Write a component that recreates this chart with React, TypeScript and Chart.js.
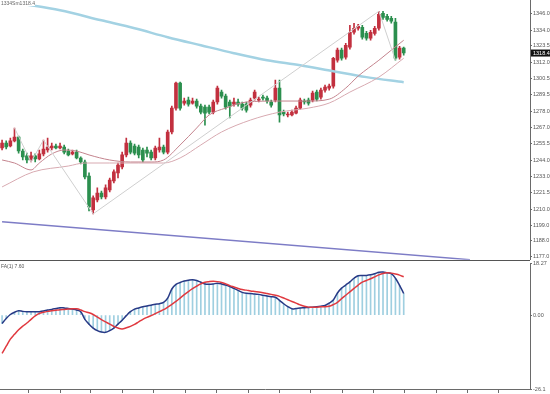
import React, { useEffect, useRef } from "react";
import { Chart, registerables } from "chart.js";
Chart.register(...registerables);

// ---- data ----
const topLabel = "1334Sm1318.4";
const macdLabel = "FA(1) 7.60";
const currentPrice = 1318.4;
const totalSlots = 128;

const openPrices = [
  1252.5, 1256.0, 1253.9, 1257.4, 1260.1, 1250.4, 1247.0, 1244.2, 1247.0, 1244.9,
  1248.4, 1251.1, 1252.5, 1253.9, 1252.5, 1253.2, 1250.4, 1248.4, 1249.7, 1245.6,
  1242.8, 1233.1, 1209.6, 1216.5, 1221.3, 1218.6, 1223.4, 1229.7, 1235.2, 1239.4,
  1247.7, 1256.0, 1253.9, 1253.2, 1251.1, 1251.1, 1249.7, 1245.6, 1251.1, 1253.2,
  1249.7, 1263.6, 1280.2, 1297.5, 1283.7, 1285.7, 1283.7, 1285.1, 1281.6, 1280.9,
  1280.9, 1277.4, 1284.4, 1291.3, 1288.5, 1284.4, 1283.0, 1284.4, 1283.0, 1283.0,
  1282.3, 1287.1, 1285.7, 1287.8, 1287.1, 1284.4, 1285.7, 1294.1, 1277.4, 1275.4,
  1275.4, 1276.7, 1280.2, 1285.1, 1285.7, 1285.7, 1291.3, 1287.8, 1292.7, 1294.1,
  1295.4, 1313.4, 1320.4, 1315.5, 1322.5, 1332.8, 1335.6, 1336.3, 1332.1, 1328.7,
  1332.1, 1335.6, 1346.0, 1343.9, 1342.5, 1339.8, 1315.5, 1321.8,
];
const closePrices = [
  1256.0, 1253.2, 1257.4, 1260.1, 1250.4, 1246.3, 1244.2, 1247.0, 1244.9, 1248.4,
  1251.8, 1253.2, 1253.9, 1252.5, 1253.9, 1249.7, 1247.7, 1249.7, 1245.6, 1242.8,
  1232.4, 1211.7, 1217.9, 1221.3, 1218.6, 1224.8, 1230.3, 1235.9, 1240.7, 1247.7,
  1256.0, 1249.7, 1249.0, 1247.7, 1244.2, 1249.0, 1245.6, 1252.5, 1253.2, 1249.7,
  1263.6, 1280.2, 1297.5, 1280.2, 1285.1, 1283.0, 1285.1, 1281.6, 1277.4, 1276.7,
  1277.4, 1284.4, 1294.1, 1288.5, 1280.9, 1281.6, 1284.4, 1283.0, 1280.2, 1278.8,
  1285.7, 1291.3, 1286.4, 1287.1, 1285.1, 1282.3, 1294.1, 1275.4, 1276.1, 1276.1,
  1277.4, 1280.2, 1285.7, 1284.4, 1283.7, 1290.6, 1286.4, 1292.7, 1294.8, 1295.4,
  1314.8, 1320.4, 1314.8, 1323.8, 1332.8, 1335.6, 1337.0, 1329.4, 1328.7, 1332.8,
  1335.6, 1345.3, 1343.2, 1341.8, 1340.5, 1314.8, 1321.8, 1318.4,
];
const highPrices = [
  1258.0, 1257.4, 1259.4, 1266.4, 1260.8, 1251.8, 1249.0, 1249.7, 1248.4, 1251.1,
  1258.0, 1259.4, 1256.0, 1255.3, 1256.0, 1254.6, 1251.8, 1251.1, 1251.1, 1246.3,
  1244.2, 1235.2, 1219.3, 1224.8, 1222.7, 1226.9, 1231.7, 1237.3, 1242.1, 1249.7,
  1259.4, 1257.4, 1255.3, 1254.6, 1252.5, 1253.2, 1251.1, 1253.9, 1259.4, 1254.6,
  1265.0, 1281.6, 1298.2, 1298.2, 1287.1, 1287.8, 1287.1, 1286.4, 1283.0, 1282.3,
  1282.3, 1285.7, 1295.4, 1292.7, 1289.9, 1285.7, 1287.1, 1286.4, 1284.4, 1284.4,
  1287.1, 1292.7, 1287.8, 1289.2, 1288.5, 1285.7, 1299.6, 1299.6, 1278.8, 1277.4,
  1278.8, 1281.6, 1287.1, 1286.4, 1287.1, 1292.0, 1292.7, 1294.1, 1296.1, 1296.8,
  1315.5, 1321.8, 1321.8, 1325.2, 1337.7, 1339.1, 1338.4, 1337.7, 1333.5, 1334.2,
  1337.0, 1347.4, 1347.4, 1345.3, 1343.9, 1342.5, 1323.1, 1322.5,
];
const lowPrices = [
  1251.1, 1251.8, 1253.2, 1256.7, 1249.0, 1244.2, 1242.1, 1242.8, 1242.8, 1244.2,
  1247.0, 1249.7, 1251.1, 1251.8, 1251.8, 1248.4, 1247.0, 1247.7, 1244.9, 1241.4,
  1231.0, 1208.9, 1206.8, 1215.1, 1217.2, 1217.2, 1222.0, 1228.3, 1231.7, 1238.0,
  1246.3, 1248.4, 1247.7, 1245.6, 1242.8, 1246.3, 1244.2, 1244.2, 1249.7, 1248.4,
  1248.4, 1262.2, 1278.8, 1278.8, 1282.3, 1281.6, 1283.0, 1280.2, 1276.1, 1268.4,
  1276.1, 1276.1, 1283.0, 1287.1, 1279.5, 1273.3, 1281.6, 1281.6, 1278.8, 1277.4,
  1280.9, 1285.7, 1284.4, 1285.7, 1283.7, 1280.9, 1284.4, 1270.5, 1274.7, 1274.0,
  1274.7, 1276.1, 1279.5, 1283.0, 1282.3, 1284.4, 1285.1, 1286.4, 1291.3, 1292.7,
  1294.1, 1312.1, 1313.4, 1314.1, 1321.1, 1331.5, 1334.2, 1328.0, 1327.3, 1327.3,
  1330.8, 1334.2, 1341.8, 1340.5, 1339.1, 1313.4, 1314.1, 1316.9,
];

// moving averages / overlays (bar index, price)
const maFastIdx = [0, 3, 7, 9, 12, 15, 18, 21, 26, 31, 36, 39, 43, 47, 50, 54, 59, 67, 74, 79, 83, 86, 91, 94, 97];
const maFastVal = [1244.2, 1242.1, 1237.3, 1242.1, 1248.4, 1251.1, 1250.4, 1247.7, 1244.2, 1242.8, 1242.8, 1244.2, 1254.6, 1266.4, 1275.4, 1280.2, 1284.4, 1285.1, 1285.1, 1286.4, 1294.1, 1302.4, 1313.4, 1320.4, 1327.3];
const maSlowIdx = [0, 7.5, 16, 20, 26, 33, 39, 43, 48, 53, 60, 67, 74, 79, 84, 91, 97];
const maSlowVal = [1225.5, 1235.9, 1240.0, 1242.1, 1242.1, 1242.1, 1242.1, 1245.6, 1254.6, 1263.6, 1271.9, 1277.4, 1280.2, 1283.7, 1291.3, 1301.7, 1314.8];
const maLongIdx = [0, 7, 14, 24, 32, 40, 48, 56, 64, 72, 80, 88, 97];
const maLongVal = [1354.3, 1351.5, 1348.1, 1341.1, 1335.6, 1329.4, 1323.8, 1318.3, 1313.4, 1310.0, 1305.8, 1301.7, 1298.2];
const trendIdx = [0, 113];
const trendVal = [1201.3, 1175.0];
const zigzagIdx = [3, 7, 10, 22, 91, 95];
const zigzagVal = [1266.4, 1242.8, 1258.0, 1206.8, 1347.4, 1313.4];

const priceTicks = [1346.0, 1334.0, 1323.5, 1312.0, 1300.5, 1289.5, 1278.0, 1267.0, 1255.5, 1244.0, 1233.0, 1221.5, 1210.0, 1199.0, 1188.0, 1177.0];
const timeTicks = [6.3, 14.0, 21.3, 29.0, 36.5, 44.2, 51.9, 59.4, 66.9, 74.6, 82.1, 89.6, 97.3, 104.8, 112.3, 120.0];

const macdMain = [
  -3.0, -1.2, 0.2, 1.0, 1.5, 1.3, 1.2, 1.2, 1.2, 1.2,
  1.4, 1.8, 2.0, 2.3, 2.6, 2.5, 2.3, 2.1, 1.8, 1.2,
  -1.5, -3.2, -4.6, -5.5, -6.0, -6.1, -5.5, -4.6, -3.2, -1.8,
  -0.2, 1.2, 2.1, 2.5, 2.9, 3.2, 3.5, 3.8, 4.0, 4.5,
  6.0, 9.2, 10.8, 11.5, 12.0, 12.3, 12.5, 12.2, 11.6, 11.0,
  10.9, 11.0, 11.2, 11.0, 10.6, 10.1, 9.4, 8.7, 8.0, 7.7,
  7.6, 7.4, 7.3, 7.0, 6.7, 6.5, 6.3, 5.2, 4.0, 3.0,
  2.2, 2.3, 2.5, 2.6, 2.7, 2.8, 2.9, 3.1, 3.4, 4.2,
  5.3, 7.8, 9.5, 10.6, 11.7, 13.0, 13.9, 14.0, 14.0, 14.2,
  14.6, 15.1, 15.2, 14.9, 14.6, 13.0, 10.5, 7.6,
];
const macdSignal = [
  -13.5, -11.0, -8.5, -6.8, -5.2, -3.9, -2.8, -1.5, -0.3, 0.6,
  1.0, 1.3, 1.5, 1.7, 1.9, 2.0, 2.1, 2.2, 2.2, 1.8,
  1.2, 0.8, 0.2, -0.7, -1.6, -2.4, -3.2, -4.0, -4.6, -4.9,
  -4.5, -4.0, -3.3, -2.4, -1.5, -0.8, -0.2, 0.5, 1.2, 1.9,
  2.8, 3.8, 4.8, 6.0, 7.2, 8.3, 9.3, 10.2, 11.0, 11.6,
  11.8, 11.9, 11.8, 11.5, 11.0, 10.4, 9.9, 9.4, 9.0, 8.8,
  8.5, 8.3, 8.1, 7.9, 7.6, 7.3, 7.0, 6.6, 6.0, 5.4,
  4.8, 4.2, 3.6, 3.1, 2.8, 2.8, 2.8, 2.9, 2.9, 3.1,
  3.7, 4.5, 5.8, 7.0, 8.2, 9.4, 10.6, 11.6, 12.2, 12.8,
  13.5, 14.2, 14.7, 14.9, 14.8, 14.5, 14.1, 13.5,
];
const macdTicks = [18.27, 0, -26.1];
const macdTickLabels = ["18.27", "0.00", "-26.1"];

// ---- styles ----
const UP = "#c2303f";
const DOWN = "#2b8f4e";
const AXIS = "#6a6a6a";
const TICK_FONT = { size: 5.5, family: "Liberation Sans" };

export default function App() {
  const mainRef = useRef<HTMLCanvasElement>(null);
  const macdRef = useRef<HTMLCanvasElement>(null);

  useEffect(() => {
    const charts: Chart[] = [];
    const idx = openPrices.map((_, i) => i);
    const candleColors = idx.map((i) => (closePrices[i] >= openPrices[i] ? UP : DOWN));
    const pts = (xs: number[], ys: number[]) => xs.map((x, k) => ({ x, y: ys[k] }));

    const paneFrame = {
      id: "paneFrame",
      afterDraw(chart: any) {
        const { ctx, chartArea } = chart;
        ctx.save();
        ctx.strokeStyle = "#555";
        ctx.lineWidth = 1;
        ctx.beginPath();
        ctx.moveTo(0, Math.round(chartArea.bottom) + 0.5);
        ctx.lineTo(chartArea.right, Math.round(chartArea.bottom) + 0.5);
        ctx.stroke();
        const y = chart.scales.y.getPixelForValue(currentPrice);
        ctx.fillStyle = "#111";
        ctx.fillRect(chartArea.right + 1, y - 3.5, 19, 7);
        ctx.fillStyle = "#fff";
        ctx.font = "5.5px 'Liberation Sans'";
        ctx.textBaseline = "middle";
        ctx.fillText(currentPrice.toFixed(1), chartArea.right + 3, y + 0.3);
        ctx.restore();
      },
    };

    if (mainRef.current) {
      charts.push(
        new Chart(mainRef.current, {
          type: "bar",
          data: {
            datasets: [
              { type: "line", label: "zigzag", data: pts(zigzagIdx, zigzagVal), borderColor: "#cfcfcf", borderWidth: 1, pointRadius: 0, tension: 0, order: 0 } as any,
              { type: "line", label: "fast", data: pts(maFastIdx, maFastVal), borderColor: "#c4848e", borderWidth: 1, pointRadius: 0, cubicInterpolationMode: "monotone", order: 0 } as any,
              { type: "line", label: "slow", data: pts(maSlowIdx, maSlowVal), borderColor: "#d8aab1", borderWidth: 1, pointRadius: 0, cubicInterpolationMode: "monotone", order: 0 } as any,
              { type: "line", label: "long", data: pts(maLongIdx, maLongVal), borderColor: "#a3d2e3", borderWidth: 2.5, pointRadius: 0, cubicInterpolationMode: "monotone", order: 0 } as any,
              { type: "line", label: "trend", data: pts(trendIdx, trendVal), borderColor: "#7d7cc6", borderWidth: 1.5, pointRadius: 0, tension: 0, order: 0 } as any,
              { type: "bar", label: "body", data: idx.map((i) => ({ x: i, y: [openPrices[i], closePrices[i]] })), backgroundColor: candleColors, barThickness: 3, grouped: false, minBarLength: 1, order: 5 } as any,
              { type: "bar", label: "wick", data: idx.map((i) => ({ x: i, y: [lowPrices[i], highPrices[i]] })), backgroundColor: candleColors, barThickness: 1, grouped: false, order: 6 } as any,
            ],
          },
          options: {
            responsive: false,
            animation: false,
            devicePixelRatio: 1,
            layout: { padding: 0 },
            plugins: { legend: { display: false }, tooltip: { enabled: false } },
            scales: {
              x: { type: "linear", offset: false, min: -0.5, max: totalSlots - 0.5, display: false },
              y: {
                position: "right",
                min: 1175,
                max: 1355,
                afterBuildTicks: (s: any) => { s.ticks = priceTicks.map((v) => ({ value: v })); },
                afterFit: (s: any) => { s.width = 20; },
                ticks: { font: TICK_FONT, color: "#555", padding: 1, autoSkip: false, callback: (v: any) => Number(v).toFixed(1) },
                grid: { drawOnChartArea: false, tickLength: 2, color: AXIS },
                border: { display: true, color: AXIS },
              },
            },
          } as any,
          plugins: [paneFrame],
        })
      );
    }

    if (macdRef.current) {
      charts.push(
        new Chart(macdRef.current, {
          type: "bar",
          data: {
            datasets: [
              { type: "line", label: "main", data: idx.map((i) => ({ x: i, y: macdMain[i] })), borderColor: "#283a86", borderWidth: 1.5, pointRadius: 0, tension: 0.35, order: 1 } as any,
              { type: "line", label: "signal", data: idx.map((i) => ({ x: i, y: macdSignal[i] })), borderColor: "#e0393f", borderWidth: 1.5, pointRadius: 0, tension: 0.35, order: 0 } as any,
              { type: "bar", label: "hist", data: idx.map((i) => ({ x: i, y: macdMain[i] })), backgroundColor: "#9fcfe0", barThickness: 1, order: 3 } as any,
            ],
          },
          options: {
            responsive: false,
            animation: false,
            devicePixelRatio: 1,
            layout: { padding: 0 },
            plugins: { legend: { display: false }, tooltip: { enabled: false } },
            scales: {
              x: {
                type: "linear",
                offset: false,
                min: -0.5,
                max: totalSlots - 0.5,
                afterBuildTicks: (s: any) => { s.ticks = timeTicks.map((v) => ({ value: v })); },
                afterFit: (s: any) => { s.height = 5; },
                ticks: { display: false },
                grid: { drawOnChartArea: false, offset: false, tickLength: 4, color: AXIS },
                border: { display: true, color: AXIS },
              },
              y: {
                position: "right",
                min: -26.1,
                max: 18.27,
                afterBuildTicks: (s: any) => { s.ticks = macdTicks.map((v) => ({ value: v })); },
                afterFit: (s: any) => { s.width = 20; },
                ticks: { font: TICK_FONT, color: "#555", padding: 1, autoSkip: false, callback: (_v: any, i: number) => macdTickLabels[i] },
                grid: { drawOnChartArea: false, tickLength: 2, color: AXIS },
                border: { display: true, color: AXIS },
              },
            },
          } as any,
        })
      );
    }

    return () => charts.forEach((c) => c.destroy());
  }, []);

  return (
    <div style={{ position: "absolute", left: 0, top: 0, width: 550, height: 394, background: "#fff", overflow: "hidden" }}>
      <canvas ref={mainRef} width={550} height={268} style={{ position: "absolute", left: 0, top: -4, width: 550, height: 268 }} />
      <canvas ref={macdRef} width={550} height={135} style={{ position: "absolute", left: 0, top: 259, width: 550, height: 135 }} />
      <div style={{ position: "absolute", left: 1, top: 0, font: "5px 'Liberation Sans'", color: "#666", background: "#fff", lineHeight: "6px" }}>{topLabel}</div>
      <div style={{ position: "absolute", left: 1, top: 263, font: "5px 'Liberation Sans'", color: "#555", lineHeight: "6px" }}>{macdLabel}</div>
    </div>
  );
}
